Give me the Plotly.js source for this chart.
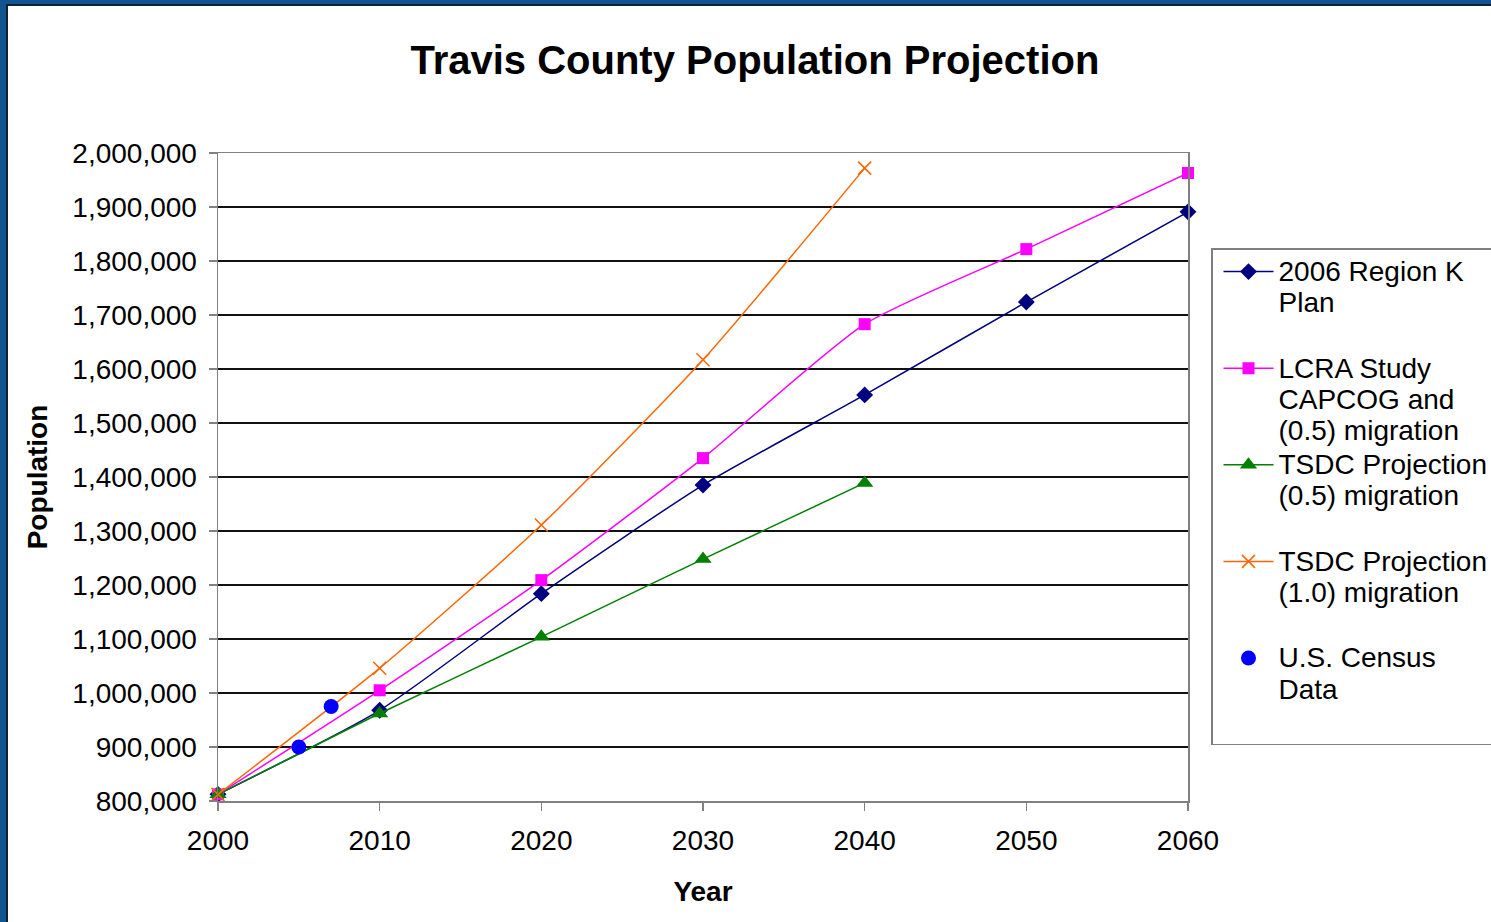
<!DOCTYPE html>
<html>
<head>
<meta charset="utf-8">
<script src="https://cdn.plot.ly/plotly-3.0.1.min.js"></script>
<style>
  html, body { margin: 0; padding: 0; width: 1491px; height: 922px; overflow: hidden; background: #12548f; }
  #frame { position: absolute; left: 6px; top: 4px; width: 1485px; height: 918px; border-left: 2px solid #0f2236; border-top: 2px solid #0f2236; background: #ffffff; }
  #chart { position: absolute; left: 0; top: 0; width: 1485px; height: 918px; }
</style>
</head>
<body>
<div id="frame"><div id="chart"></div></div>
<script>
// ---- data ----
const projYears = [2000, 2010, 2020, 2030, 2040, 2050, 2060];
const regionK2006 = [812280, 968000, 1184000, 1385000, 1552000, 1724000, 1891000];
const lcraStudy = [812280, 1005000, 1209000, 1435000, 1683000, 1822000, 1963000];
const tsdcYears = [2000, 2010, 2020, 2030, 2040];
const tsdc05 = [812280, 962000, 1104000, 1248000, 1389000];
const tsdc10 = [812280, 1046000, 1311000, 1617000, 1972000];
const censusYears = [2005, 2007];
const censusData = [900000, 975000];

const seriesNames = [
  '2006 Region K<br>Plan<br> ',
  'LCRA Study<br>CAPCOG and<br>(0.5) migration',
  'TSDC Projection<br>(0.5) migration<br> ',
  'TSDC Projection<br>(1.0) migration<br> ',
  'U.S. Census<br>Data<br> '
];
const xTickVals = [2000, 2010, 2020, 2030, 2040, 2050, 2060];

function lbl(s) { return '<span style="font-size:28px">' + s.split('<br>').join('</span><br><span style="font-size:28px">') + '</span>'; }

const traces = [
  { x: projYears, y: regionK2006, name: lbl(seriesNames[0]), type: 'scatter', mode: 'lines+markers',
    line: { color: '#000080', width: 1.5, shape: 'spline', smoothing: 0.6 },
    marker: { symbol: 'diamond', size: 13, color: '#000080' }, cliponaxis: false },
  { x: projYears, y: lcraStudy, name: lbl(seriesNames[1]), type: 'scatter', mode: 'lines+markers',
    line: { color: '#ff00ff', width: 1.5, shape: 'spline', smoothing: 0.6 },
    marker: { symbol: 'square', size: 12, color: '#ff00ff' }, cliponaxis: false },
  { x: tsdcYears, y: tsdc05, name: lbl(seriesNames[2]), type: 'scatter', mode: 'lines+markers',
    line: { color: '#008000', width: 1.5, shape: 'spline', smoothing: 0.6 },
    marker: { symbol: 'triangle-up', size: 15, color: '#008000' }, cliponaxis: false },
  { x: tsdcYears, y: tsdc10, name: lbl(seriesNames[3]), type: 'scatter', mode: 'lines+markers',
    line: { color: '#ff6600', width: 1.5, shape: 'spline', smoothing: 0.6 },
    marker: { symbol: 'x-thin', size: 13, color: '#ff6600', line: { color: '#ff6600', width: 1.5 } }, cliponaxis: false },
  { x: censusYears, y: censusData, name: lbl(seriesNames[4]), type: 'scatter', mode: 'markers',
    marker: { symbol: 'circle', size: 15, color: '#0000ff' }, cliponaxis: false }
];

const W = 1485, H = 918;
const layout = {
  width: W, height: H,
  paper_bgcolor: '#ffffff', plot_bgcolor: '#ffffff',
  font: { family: 'Liberation Sans, Arial, sans-serif', size: 28, color: '#000000' },
  margin: { l: 210, r: W - 1180, t: 147, b: H - 795, autoexpand: false },
  title: { text: '<b>Travis County Population Projection</b>', font: { size: 40, family: 'Liberation Sans, Arial, sans-serif' },
           xref: 'paper', x: 0.5535, xanchor: 'center', yref: 'container', y: 1 - 54 / H, yanchor: 'middle' },
  showlegend: true,
  legend: {
    x: 1 + 23 / 970, xanchor: 'left', y: 1 + 3 / 648 - (251 - 153) / 648, yanchor: 'top',
    bordercolor: '#808080', borderwidth: 1.5, bgcolor: '#ffffff',
    font: { size: 24, family: 'Liberation Sans, Arial, sans-serif' },
    valign: 'top', itemwidth: 50, tracegroupgap: 0, indentation: 6
  },
  xaxis: {
    range: [2000, 2060], tickvals: xTickVals, ticktext: xTickVals.map(String),
    showgrid: false, zeroline: false,
    showline: true, linecolor: '#808080', linewidth: 1.5, mirror: true,
    ticks: 'outside', ticklen: 8, tickcolor: '#808080', tickwidth: 1.5,
    tickfont: { size: 28 }, ticklabelstandoff: 6,
    title: { text: '<b>Year</b>', font: { size: 28 }, standoff: 26 }
  },
  yaxis: {
    range: [800000, 2000000], dtick: 100000, tick0: 800000, tickformat: ',d',
    showgrid: true, gridcolor: '#111111', gridwidth: 1.2, zeroline: false,
    showline: true, linecolor: '#808080', linewidth: 1.5, mirror: true,
    ticks: 'outside', ticklen: 8, tickcolor: '#808080', tickwidth: 1.5,
    tickfont: { size: 28 }, ticklabelstandoff: 6,
    title: { text: '<b>Population</b>', font: { size: 28 }, standoff: 16 }
  }
};

Plotly.newPlot('chart', traces, layout, { displayModeBar: false, staticPlot: true });
</script>
</body>
</html>
